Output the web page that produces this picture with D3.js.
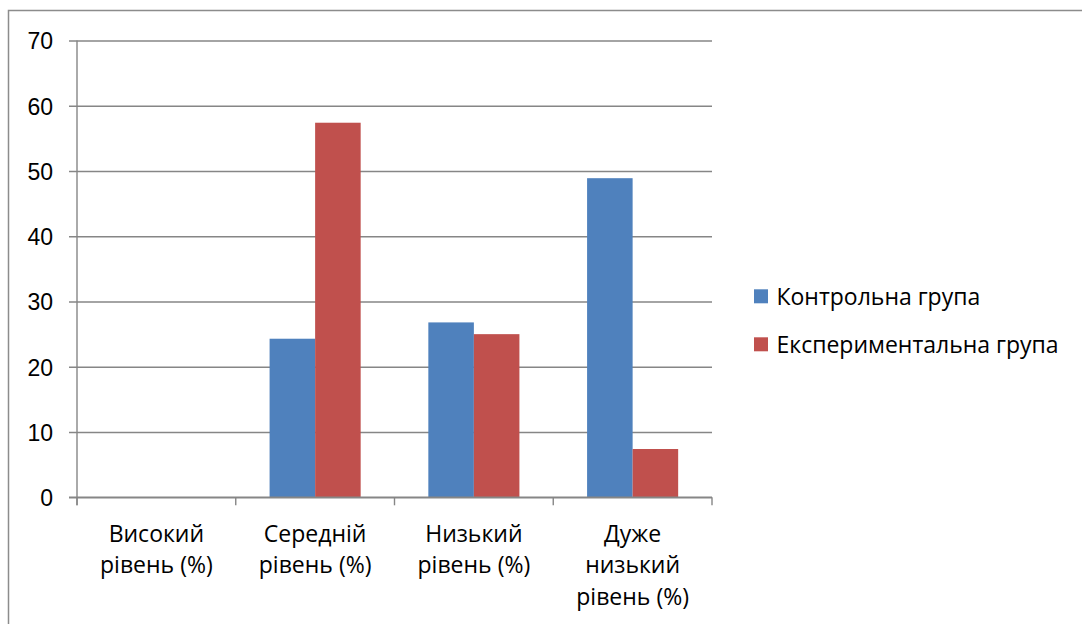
<!DOCTYPE html>
<html>
<head>
<meta charset="utf-8">
<script src="https://cdn.jsdelivr.net/npm/d3@7"></script>
<style>
  body { margin: 0; background: #fff; }
  svg { display: block; font-family: "Open Sans", sans-serif; }
</style>
</head>
<body>
<div id="chart"></div>
<script>
//data
var categories = [
    ['Високий', 'рівень (%)'],
    ['Середній', 'рівень (%)'],
    ['Низький', 'рівень (%)'],
    ['Дуже', 'низький', 'рівень (%)']
];
var seriesNames = ['Контрольна група', 'Експериментальна група'];
var controlValues = [0, 24.3, 26.8, 48.9];
var experimentValues = [0, 57.4, 25.0, 7.4];
var yTicks = [0, 10, 20, 30, 40, 50, 60, 70];
var seriesColors = ['#4F81BD', '#C0504D'];

//sizes
var outerW = 1082,
    outerH = 624;

var plot = { left: 77, right: 712, top: 40.5, bottom: 497.3 };

var svg = d3.select('#chart').append('svg')
    .attr('width', outerW)
    .attr('height', outerH);

//outer frame
svg.append('rect')
    .attr('x', 8.5)
    .attr('y', 10.5)
    .attr('width', 1100)
    .attr('height', 700)
    .attr('fill', 'none')
    .attr('stroke', '#8c8c8c')
    .attr('stroke-width', 1.5);

//scales
var xScale = d3.scaleBand()
    .domain(d3.range(categories.length))
    .range([plot.left, plot.right])
    .padding(0);

var innerScale = d3.scaleBand()
    .domain([0, 1])
    .range([0, xScale.bandwidth()])
    .paddingInner(0)
    .paddingOuter(0.743);

var yScale = d3.scaleLinear()
    .domain([0, 70])
    .range([plot.bottom, plot.top]);

//grid + y axis
var yAxis = d3.axisLeft(yScale)
    .tickValues(yTicks)
    .tickSize(-(plot.right - plot.left))
    .tickSizeOuter(0)
    .tickFormat(d3.format('d'));

var yAxisG = svg.append('g')
    .attr('transform', 'translate(' + plot.left + ',0)')
    .call(yAxis);

yAxisG.select('.domain').remove();
yAxisG.selectAll('.tick line')
    .attr('x1', -8)
    .attr('stroke', '#868686')
    .attr('stroke-width', 1.4);
yAxisG.selectAll('.tick text')
    .attr('x', -24)
    .attr('dy', '0.36em')
    .attr('fill', '#000')
    .style('font-size', '23px');

//bars
var groups = svg.append('g').selectAll('g')
    .data(categories)
    .enter().append('g')
    .attr('transform', function(d, i) { return 'translate(' + xScale(i) + ',0)'; });

groups.selectAll('rect')
    .data(function(d, i) { return [controlValues[i], experimentValues[i]]; })
    .enter().append('rect')
    .attr('x', function(d, j) { return innerScale(j); })
    .attr('y', function(d) { return yScale(d); })
    .attr('width', innerScale.bandwidth())
    .attr('height', function(d) { return plot.bottom - yScale(d); })
    .attr('fill', function(d, j) { return seriesColors[j]; });

//y axis line
svg.append('line')
    .attr('x1', plot.left).attr('x2', plot.left)
    .attr('y1', plot.top).attr('y2', plot.bottom + 8)
    .attr('stroke', '#868686')
    .attr('stroke-width', 1.4);

//x axis
svg.append('line')
    .attr('x1', plot.left - 8).attr('x2', plot.right)
    .attr('y1', plot.bottom).attr('y2', plot.bottom)
    .attr('stroke', '#868686')
    .attr('stroke-width', 1.4);

svg.append('g').selectAll('line')
    .data(d3.range(categories.length + 1))
    .enter().append('line')
    .attr('x1', function(d) { return plot.left + d * xScale.step(); })
    .attr('x2', function(d) { return plot.left + d * xScale.step(); })
    .attr('y1', plot.bottom)
    .attr('y2', plot.bottom + 8)
    .attr('stroke', '#868686')
    .attr('stroke-width', 1.4);

//category labels
var labels = svg.append('g').selectAll('text')
    .data(categories)
    .enter().append('text')
    .attr('text-anchor', 'middle')
    .attr('fill', '#000')
    .style('font-size', '23px');

labels.selectAll('tspan')
    .data(function(d, i) { return d.map(function(t) { return { t: t, i: i }; }); })
    .enter().append('tspan')
    .attr('x', function(d) { return xScale(d.i) + xScale.bandwidth() / 2; })
    .attr('y', function(d, k) { return 541.5 + k * 31.7; })
    .text(function(d) { return d.t; });

//legend
var legend = svg.append('g').selectAll('g')
    .data(seriesNames)
    .enter().append('g')
    .attr('transform', function(d, i) { return 'translate(754,' + (289.3 + i * 48) + ')'; });

legend.append('rect')
    .attr('width', 14)
    .attr('height', 14)
    .attr('fill', function(d, i) { return seriesColors[i]; });

legend.append('text')
    .attr('x', 22.5)
    .attr('y', 15.5)
    .attr('fill', '#000')
    .style('font-size', '23px')
    .text(function(d) { return d; });
</script>
</body>
</html>
